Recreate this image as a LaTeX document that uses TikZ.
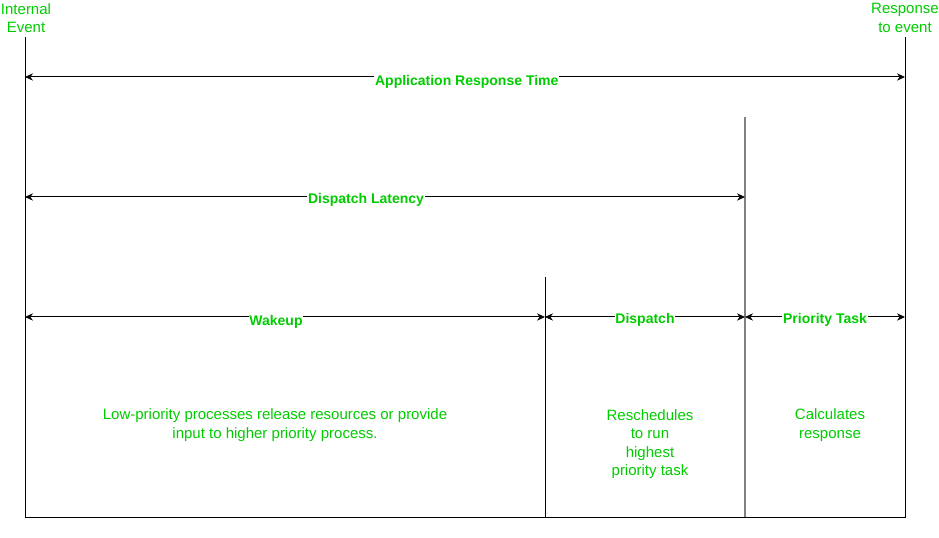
\documentclass[tikz,border=0pt]{standalone}
\usepackage{fontspec}
\setmainfont{Liberation Sans}
\usetikzlibrary{arrows.meta}
\definecolor{lblgreen}{HTML}{00CC00}
\definecolor{midgray}{HTML}{808080}
\tikzset{
  dim/.style={draw=black, line width=0.75pt, {Stealth[length=6pt,width=5.5pt]}-{Stealth[length=6pt,width=5.5pt]}},
  tick/.style={draw=black, line width=0.75pt},
  dimlabel/.style={fill=white, inner sep=0.5pt, text=lblgreen, font=\fontsize{10.5pt}{12pt}\selectfont\bfseries},
  txt/.style={text=lblgreen, align=center, inner sep=0pt, font=\fontsize{11.25pt}{13.8pt}\selectfont}
}
\begin{document}
\begin{tikzpicture}[x=0.75pt,y=-0.75pt]
\useasboundingbox (0,0) rectangle (939,538);
% coordinates
\coordinate (L0) at (25,37);
\coordinate (L1) at (25,517);
\coordinate (R0) at (905,37);
\coordinate (R1) at (905,517);
\coordinate (G0) at (745,117);
\coordinate (G1) at (745,517);
\coordinate (M0) at (545,277);
\coordinate (M1) at (545,517);
% frame lines
\draw[tick] (L0) -- (L1) -- (R1) -- (R0);
\draw[tick] (M0) -- (M1);
\draw[line width=0.9pt, draw=midgray] (G0) -- (G1);
% arrow endpoints
\coordinate (a1) at (25,77);
\coordinate (a2) at (905,77);
\coordinate (b1) at (25,197);
\coordinate (b2) at (745,197);
\coordinate (c1) at (25,317);
\coordinate (c2) at (545,317);
\coordinate (c3) at (745,317);
\coordinate (c4) at (905,317);
% arrows
\draw[dim] (a1) -- node[dimlabel, pos=0.502, yshift=-3.5pt] (lapp) {Application Response Time} (a2);
\draw[dim] (b1) -- node[dimlabel, pos=0.4736, yshift=-2.5pt] (ldl) {Dispatch Latency} (b2);
\draw[dim] (c1) -- node[dimlabel, pos=0.4827, yshift=-3.5pt] (lwk) {Wakeup} (c2);
\draw[dim] (c2) -- node[dimlabel, yshift=-2.5pt] (ldp) {Dispatch} (c3);
\draw[dim] (c3) -- node[dimlabel, yshift=-2.5pt] (lpt) {Priority Task} (c4);
% texts
\node[txt] (ie) at (26,18) {Internal\\Event};
\node[txt] (re) at (905,18) {Response\\to event};
\node[txt] (t1) at (275,425) {Low-priority processes release resources or provide\\input to higher priority process.};
\node[txt] (t2) at (650,444) {Reschedules\\to run\\highest\\priority task};
\node[txt] (t3) at (830,425) {Calculates\\response};
\end{tikzpicture}
\end{document}
